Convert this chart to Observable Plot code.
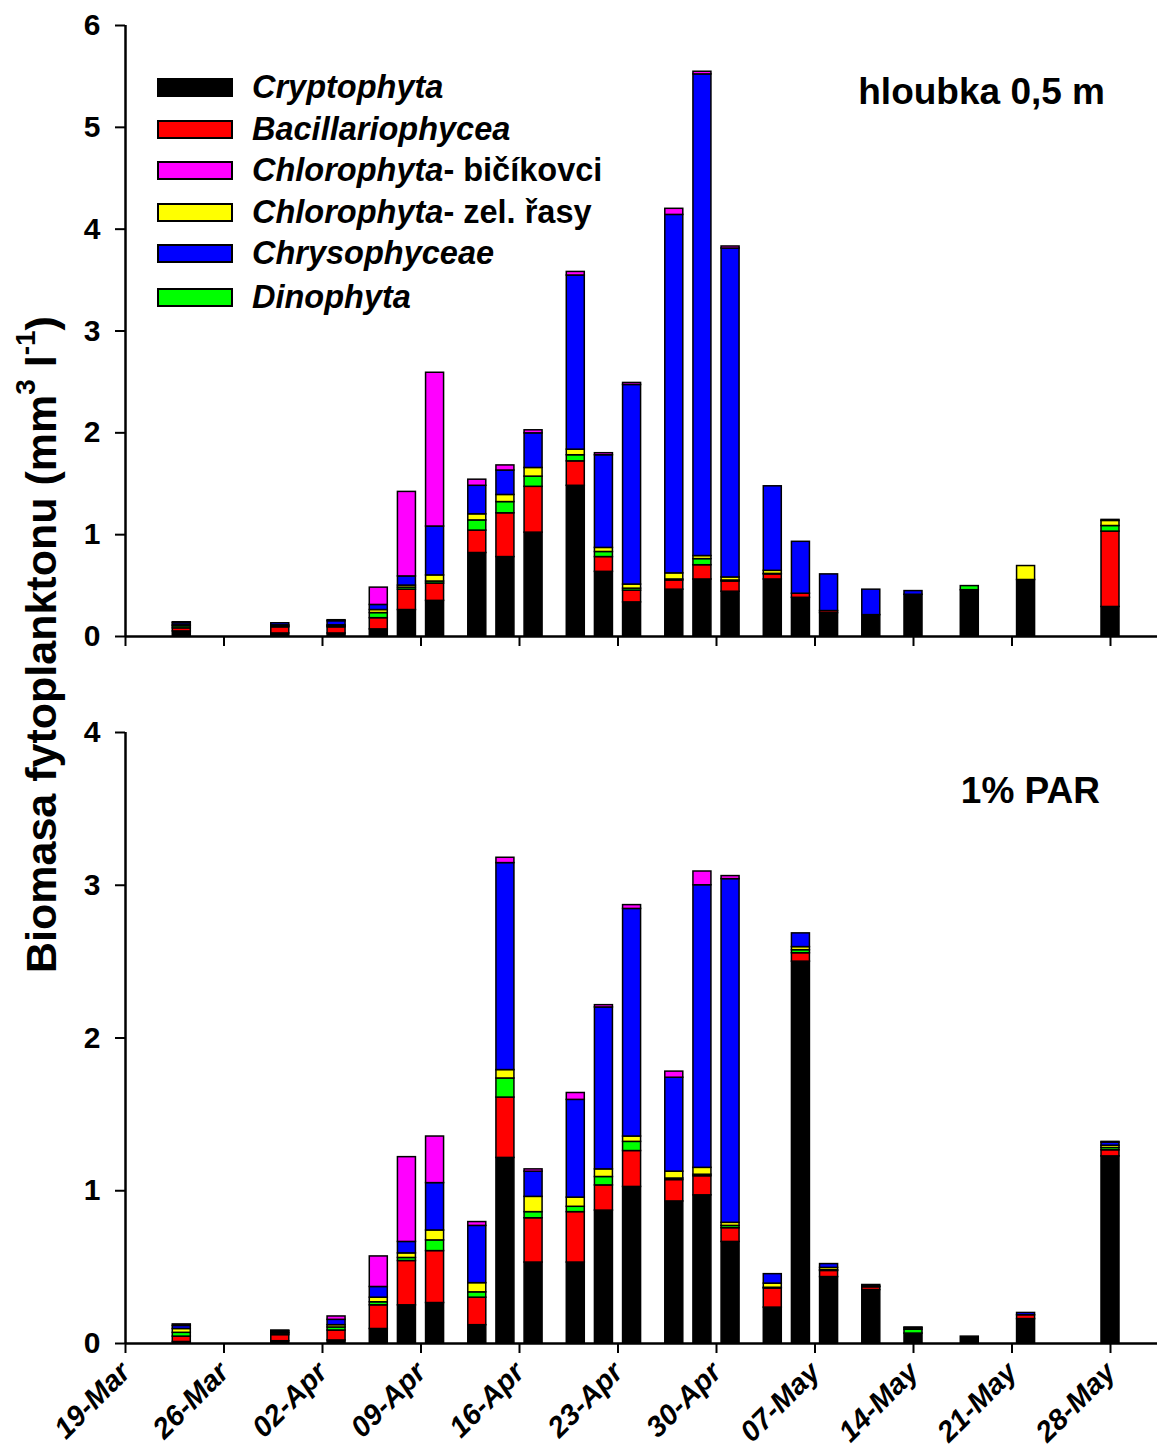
<!DOCTYPE html>
<html><head><meta charset="utf-8">
<script src="https://cdn.jsdelivr.net/npm/d3@7"></script>
<script src="https://cdn.jsdelivr.net/npm/@observablehq/plot@0.6"></script>
<style>
body{margin:0;background:#fff;font-family:"Liberation Sans",Arial,sans-serif;}
#wrap{position:relative;width:1157px;height:1448px;overflow:hidden;}
.panel{position:absolute;left:0;}
.leg{position:absolute;left:157px;top:0;font-weight:bold;font-size:32.5px;color:#000;}
.row{position:absolute;left:0;white-space:nowrap;height:42px;}
.sw{position:absolute;left:0;width:72px;height:15px;border:2px solid #000;}
.lab{position:absolute;left:95px;line-height:1;}
.ptitle{position:absolute;font-weight:bold;font-size:37px;white-space:nowrap;line-height:1;}
#ylab{position:absolute;font-weight:bold;font-size:43px;white-space:nowrap;transform-origin:0 0;line-height:1.1;}
#ylab sup{font-size:28px;vertical-align:0.75em;line-height:0;}
</style></head><body><div id="wrap"></div>
<script>
// ---- data ----
const dates = ["2008-03-23","2008-03-30","2008-04-03","2008-04-06","2008-04-08","2008-04-10","2008-04-13","2008-04-15","2008-04-17","2008-04-20","2008-04-22","2008-04-24","2008-04-27","2008-04-29","2008-05-01","2008-05-04","2008-05-06","2008-05-08","2008-05-11","2008-05-14","2008-05-18","2008-05-22","2008-05-28"];
const tickLabels = ["19-Mar","26-Mar","02-Apr","09-Apr","16-Apr","23-Apr","30-Apr","07-May","14-May","21-May","28-May"];
const tickDates = ["2008-03-19","2008-03-26","2008-04-02","2008-04-09","2008-04-16","2008-04-23","2008-04-30","2008-05-07","2008-05-14","2008-05-21","2008-05-28"];
const stackOrder = ["Cryptophyta","Bacillariophycea","Dinophyta","Chlorophyta- zel. řasy","Chrysophyceae","Chlorophyta- bičíkovci"];
const colors = ["#000000","#ff0000","#00ff00","#ffff00","#0000ff","#ff00ff"];
const legendOrder = ["Cryptophyta","Bacillariophycea","Chlorophyta- bičíkovci","Chlorophyta- zel. řasy","Chrysophyceae","Dinophyta"];

// top panel: hloubka 0,5 m
const topCrypto  = [0.05,0.03,0.03,0.07,0.26,0.35,0.82,0.78,1.02,1.48,0.635,0.335,0.46,0.56,0.44,0.56,0.38,0.23,0.21,0.41,0.455,0.555,0.29];
const topBacil   = [0.03,0.06,0.06,0.11,0.20,0.17,0.22,0.43,0.45,0.24,0.145,0.115,0.09,0.14,0.10,0.05,0.04,0.02,0,0,0,0,0.74];
const topDino    = [0.02,0.01,0.01,0.05,0.02,0.02,0.10,0.11,0.10,0.06,0.05,0.02,0.01,0.06,0.01,0.005,0,0,0,0,0.04,0,0.055];
const topZel     = [0.01,0.01,0.01,0.03,0.02,0.06,0.06,0.07,0.085,0.055,0.04,0.04,0.06,0.03,0.03,0.03,0,0,0,0,0,0.137,0.05];
const topChryso  = [0.02,0.02,0.04,0.05,0.09,0.48,0.28,0.24,0.34,1.71,0.91,1.96,3.52,4.73,3.23,0.83,0.51,0.36,0.25,0.036,0,0,0];
const topBicik   = [0.01,0,0.01,0.17,0.83,1.51,0.06,0.05,0.03,0.035,0.02,0.02,0.06,0.026,0.02,0,0,0,0,0,0,0,0.01];

// bottom panel: 1% PAR
const botCrypto  = [0.01,0.015,0.02,0.095,0.25,0.265,0.12,1.215,0.53,0.53,0.87,1.025,0.93,0.97,0.665,0.235,2.5,0.435,0.35,0.065,0.045,0.16,1.225];
const botBacil   = [0.035,0.04,0.065,0.155,0.29,0.34,0.18,0.395,0.29,0.33,0.165,0.235,0.14,0.125,0.09,0.125,0.055,0.04,0.018,0,0,0.025,0.04];
const botDino    = [0.025,0.01,0.02,0.02,0.02,0.07,0.035,0.125,0.04,0.035,0.055,0.06,0.01,0.01,0.015,0.005,0.02,0.005,0.005,0.025,0,0,0.015];
const botZel     = [0.025,0.005,0.015,0.03,0.03,0.065,0.06,0.055,0.1,0.06,0.05,0.035,0.045,0.045,0.02,0.027,0.02,0.015,0,0.01,0,0,0.015];
const botChryso  = [0.02,0.01,0.035,0.07,0.075,0.31,0.375,1.355,0.165,0.64,1.06,1.49,0.615,1.85,2.25,0.062,0.09,0.025,0.01,0.005,0,0.015,0.02];
const botBicik   = [0.01,0.005,0.022,0.2,0.555,0.305,0.025,0.035,0.015,0.045,0.015,0.025,0.04,0.09,0.02,0,0,0,0,0,0,0,0.005];

// ---- build ----
const DAY = 864e5;
const x0 = new Date("2008-03-19");
const xEnd = new Date(+x0 + 73.34 * DAY);
const half = 0.64 * DAY;
const ticks = tickDates.map(d => new Date(d));
const fmt = d => tickLabels[ticks.findIndex(t => +t === +d)];

function rows(series) {
  const out = [];
  dates.forEach((d, i) => {
    const t = new Date(d);
    stackOrder.forEach((g, k) => {
      const v = series[k][i];
      if (v > 0) out.push({x1: new Date(+t - half), x2: new Date(+t + half), group: g, value: v});
    });
  });
  return out;
}
const topRows = rows([topCrypto, topBacil, topDino, topZel, topChryso, topBicik]);
const botRows = rows([botCrypto, botBacil, botDino, botZel, botChryso, botBicik]);

const font = {fontFamily: "Liberation Sans, Arial, sans-serif", fontSize: "30px", fontWeight: "bold", background: "transparent", overflow: "visible"};

function panel(data, yMax, height, mt, mb, showLabels) {
  return Plot.plot({
    width: 1157, height, marginLeft: 125, marginRight: 0, marginTop: mt, marginBottom: mb,
    x: {type: "utc", domain: [x0, xEnd]},
    y: {domain: [0, yMax]},
    color: {domain: stackOrder, range: colors},
    style: font,
    marks: [
      Plot.rectY(data, {x1: "x1", x2: "x2", y: "value", fill: "group", stroke: "#000", strokeWidth: 1.5}),
      Plot.axisY({ticks: d3.range(0, yMax + 1), tickSize: 10, tickPadding: 15, tickFormat: d => String(d), fontSize: 30, fontWeight: "bold", strokeWidth: 2, label: null}),
      Plot.axisX({ticks, tickSize: 10, strokeWidth: 2, label: null,
        tickFormat: showLabels ? fmt : () => "",
        tickRotate: -45, tickPadding: 14, fontSize: 29, fontWeight: "bold", fontStyle: "italic"}),
      Plot.ruleX([x0], {stroke: "#000", strokeWidth: 2.5}),
      Plot.ruleY([0], {stroke: "#000", strokeWidth: 2.5})
    ]
  });
}

const wrap = document.getElementById("wrap");
const p1 = panel(topRows, 6, 660, 25, 24, false);
p1.classList.add("panel"); p1.style.top = "0px";
const p2 = panel(botRows, 4, 788, 72, 105, true);
p2.classList.add("panel"); p2.style.top = "660px";
wrap.appendChild(p1); wrap.appendChild(p2);

// legend
const leg = document.createElement("div");
leg.className = "leg";
const tops = [78, 120, 161, 203, 244, 288];
legendOrder.forEach((g, i) => {
  const r = document.createElement("div");
  r.className = "row"; r.style.top = tops[i] + "px";
  const sw = document.createElement("div");
  sw.className = "sw"; sw.style.background = colors[stackOrder.indexOf(g)];
  const lab = document.createElement("div");
  lab.className = "lab"; lab.style.top = "-7px";
  if (g.startsWith("Chlorophyta-")) {
    lab.innerHTML = "<i>Chlorophyta</i>" + g.slice("Chlorophyta".length);
  } else {
    lab.innerHTML = "<i>" + g + "</i>";
  }
  r.appendChild(sw); r.appendChild(lab); leg.appendChild(r);
});
wrap.appendChild(leg);

// panel titles
const t1 = document.createElement("div");
t1.className = "ptitle"; t1.textContent = "hloubka 0,5 m";
t1.style.right = "52px"; t1.style.top = "73px";
wrap.appendChild(t1);
const t2 = document.createElement("div");
t2.className = "ptitle"; t2.textContent = "1% PAR";
t2.style.right = "57px"; t2.style.top = "772px";
wrap.appendChild(t2);

// y label
const yl = document.createElement("div");
yl.id = "ylab";
yl.innerHTML = "Biomasa fytoplanktonu (mm<sup>3</sup> l<sup>-1</sup>)";
wrap.appendChild(yl);
const bb = yl.getBoundingClientRect();
yl.style.left = (42 - bb.height / 2) + "px";
yl.style.top = (645 + bb.width / 2) + "px";
yl.style.transform = "rotate(-90deg)";
</script></body></html>
